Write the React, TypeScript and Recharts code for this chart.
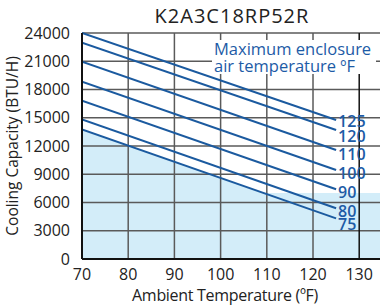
import React from "react";
import {
  ComposedChart,
  Line,
  Area,
  XAxis,
  YAxis,
  ReferenceLine,
  LabelList,
} from "recharts";

const FONT = "'Open Sans', sans-serif";
const INK = "#222";
const GRID = "#5a5a5a";
const BLUE = "#1b5a9f";
const LABEL_BLUE = "#1d5ba6";
const SHADE = "#d3edf9";

// max enclosure air temperature (ºF) per curve
const TEMPS = [125, 120, 110, 100, 90, 80, 75];
// curve runs from 70 to 125 ºF ambient
const LINE_X = [70, 125];
const START_BTU = [24000, 22970, 20950, 18830, 16810, 14830, 13770];
const END_BTU = [14760, 13700, 11575, 9450, 7400, 5385, 4320];

// shaded region
const SHADE_X = [70, 109.4, 134.5];
const SHADE_BTU = [13770, 7000, 7000];

const X_TICKS = [70, 80, 90, 100, 110, 120, 130];
const Y_TICKS = [0, 3000, 6000, 9000, 12000, 15000, 18000, 21000, 24000];

// vertical nudge of each end label (px), same order as TEMPS
const LABEL_DY = [1, 6.5, 4, 2.5, 3, 3, 6];

const lines = TEMPS.map((t, i) => ({
  temp: t,
  dy: LABEL_DY[i],
  data: [
    { x: LINE_X[0], y: START_BTU[i] },
    { x: LINE_X[1], y: END_BTU[i] },
  ],
}));

const shadeData = SHADE_X.map((x, i) => ({ x, y: SHADE_BTU[i] }));

const tick = { fontSize: 16, fill: INK, fontFamily: FONT };

function makeEndLabel(dy: number) {
  return function EndLabel(props: any) {
    const { x, y, index, value } = props;
    if (index !== 1) return null;
    return (
      <text
        x={x + 2}
        y={y + dy}
        fill={LABEL_BLUE}
        fontSize={16}
        fontWeight={600}
        fontFamily={FONT}
        dominantBaseline="central"
      >
        {value}
      </text>
    );
  };
}

export default function App() {
  return (
    <div style={{ position: "absolute", left: 0, top: 0, width: 380, height: 305, background: "#fff", fontFamily: FONT }}>
      <div
        style={{
          position: "absolute",
          left: 82,
          width: 300,
          top: 2,
          textAlign: "center",
          fontSize: 20,
          letterSpacing: 1,
          color: INK,
        }}
      >
        K2A3C18RP52R
      </div>
      <ComposedChart
        width={380}
        height={305}
        margin={{ top: 33, right: 0, left: 0, bottom: 0 }}
        style={{ position: "absolute", left: 0, top: 0 }}
      >
        <XAxis
          type="number"
          dataKey="x"
          domain={[70, 134.5]}
          ticks={X_TICKS}
          allowDataOverflow
          height={46}
          tick={tick}
          tickLine={false}
          axisLine={{ stroke: "#111", strokeWidth: 2 }}
          tickMargin={4}
          label={{
            value: "Ambient Temperature (ºF)",
            position: "insideBottom",
            offset: 4,
            dx: -6,
            style: { fontSize: 16, fill: INK, fontFamily: FONT, letterSpacing: -0.3 },
          }}
        />
        <YAxis
          type="number"
          dataKey="y"
          domain={[0, 24000]}
          ticks={Y_TICKS}
          width={82}
          tick={tick}
          tickLine={false}
          axisLine={{ stroke: "#111", strokeWidth: 2 }}
          tickMargin={6}
          label={{
            value: "Cooling Capacity (BTU/H)",
            angle: -90,
            position: "insideLeft",
            offset: 12,
            style: { fontSize: 15.5, fill: INK, fontFamily: FONT, textAnchor: "middle" },
          }}
        />
        <Area
          data={shadeData}
          dataKey="y"
          type="linear"
          stroke="none"
          fill={SHADE}
          fillOpacity={1}
          isAnimationActive={false}
        />
        {Y_TICKS.slice(1).map((v) => (
          <ReferenceLine key={"h" + v} y={v} stroke={GRID} strokeWidth={1.5} />
        ))}
        {X_TICKS.slice(1).map((v) => (
          <ReferenceLine
            key={"v" + v}
            x={v}
            stroke={v === 130 ? "#111" : GRID}
            strokeWidth={1.5}
          />
        ))}
        {lines.map((l) => (
          <Line
            key={l.temp}
            data={l.data}
            dataKey="y"
            name={String(l.temp)}
            type="linear"
            stroke={BLUE}
            strokeWidth={2}
            dot={false}
            isAnimationActive={false}
          >
            <LabelList dataKey={() => l.temp} content={makeEndLabel(l.dy)} />
          </Line>
        ))}
      </ComposedChart>
      <div
        style={{
          position: "absolute",
          left: 212,
          top: 40,
          width: 160,
          padding: "0 2px",
          background: "#fff",
          color: LABEL_BLUE,
          fontSize: 16.5,
          lineHeight: "17px",
          whiteSpace: "nowrap",
        }}
      >
        Maximum enclosure
        <br />
        air temperature ºF
      </div>
    </div>
  );
}
